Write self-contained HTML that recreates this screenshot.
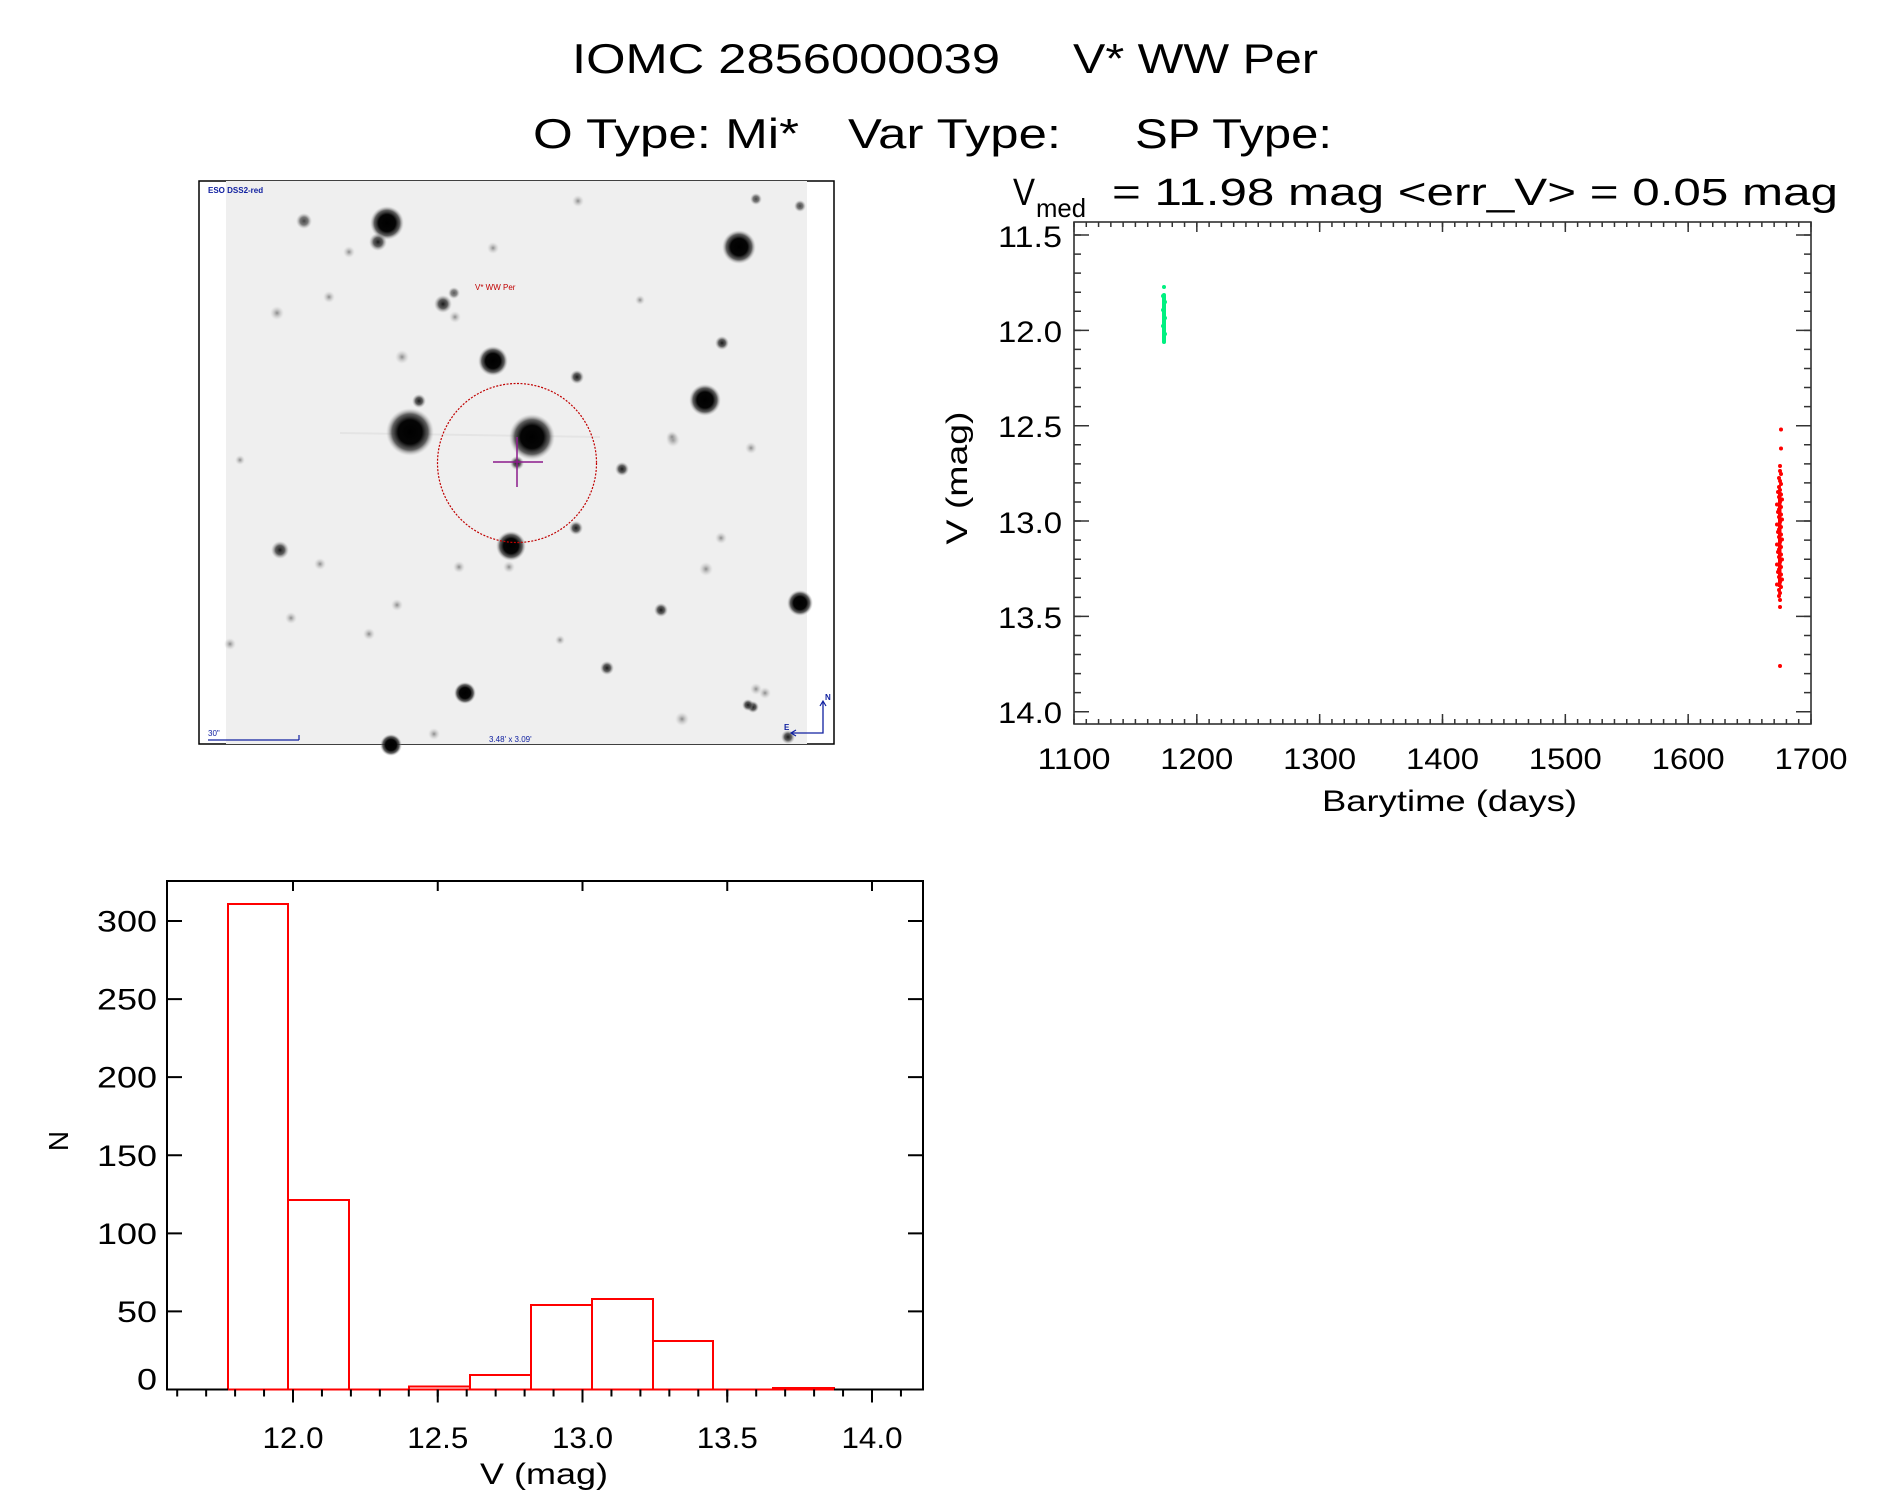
<!DOCTYPE html>
<html>
<head>
<meta charset="utf-8">
<style>
html,body{margin:0;padding:0;background:#fff;}
svg{display:block;}
text{font-family:"Liberation Sans",sans-serif;fill:#000;}
</style>
</head>
<body>
<svg width="1889" height="1494" viewBox="0 0 1889 1494" xmlns="http://www.w3.org/2000/svg">
<defs>
<radialGradient id="st"><stop offset="0" stop-color="#000"/><stop offset="0.5" stop-color="#050505"/><stop offset="0.75" stop-color="#3a3a3a" stop-opacity="0.8"/><stop offset="1" stop-color="#bbb" stop-opacity="0"/></radialGradient>
<radialGradient id="sm"><stop offset="0" stop-color="#1a1a1a"/><stop offset="0.5" stop-color="#444" stop-opacity="0.85"/><stop offset="1" stop-color="#aaa" stop-opacity="0"/></radialGradient>
<radialGradient id="fa"><stop offset="0" stop-color="#8a8a8a"/><stop offset="1" stop-color="#ccc" stop-opacity="0"/></radialGradient>
</defs>

<!-- Titles -->
<text x="572" y="73" font-size="42" textLength="428" lengthAdjust="spacingAndGlyphs">IOMC 2856000039</text>
<text x="1073" y="73" font-size="42" textLength="245" lengthAdjust="spacingAndGlyphs">V* WW Per</text>
<text x="533" y="148" font-size="42" textLength="266" lengthAdjust="spacingAndGlyphs">O Type: Mi*</text>
<text x="848" y="148" font-size="42" textLength="213" lengthAdjust="spacingAndGlyphs">Var Type:</text>
<text x="1135" y="148" font-size="42" textLength="197" lengthAdjust="spacingAndGlyphs">SP Type:</text>

<!-- Image panel -->
<rect x="199" y="181" width="635" height="563" fill="#fff" stroke="#000" stroke-width="1.5"/>
<rect x="226" y="181" width="581" height="563" fill="#efefef"/>
<line x1="340" y1="433" x2="600" y2="437" stroke="#aaa" stroke-width="2" opacity="0.15"/>
<g>
<circle cx="410" cy="432" r="24" fill="url(#st)"/>
<circle cx="532" cy="437" r="23" fill="url(#st)"/>
<circle cx="387" cy="223" r="17" fill="url(#st)"/>
<circle cx="739" cy="247" r="17" fill="url(#st)"/>
<circle cx="705" cy="400" r="16" fill="url(#st)"/>
<circle cx="493" cy="361" r="15" fill="url(#st)"/>
<circle cx="511" cy="546" r="15" fill="url(#st)"/>
<circle cx="800" cy="603" r="13" fill="url(#st)"/>
<circle cx="465" cy="693" r="11" fill="url(#st)"/>
<circle cx="391" cy="745" r="11" fill="url(#st)"/>
<circle cx="378" cy="242" r="9" fill="url(#sm)"/>
<circle cx="443" cy="304" r="9" fill="url(#sm)"/>
<circle cx="280" cy="550" r="9" fill="url(#sm)"/>
<circle cx="304" cy="221" r="8" fill="url(#sm)" opacity="0.8"/>
<circle cx="722" cy="343" r="7" fill="url(#sm)"/>
<circle cx="756" cy="199" r="6" fill="url(#sm)" opacity="0.8"/>
<circle cx="800" cy="206" r="6" fill="url(#sm)" opacity="0.8"/>
<circle cx="419" cy="401" r="7" fill="url(#sm)"/>
<circle cx="577" cy="377" r="7" fill="url(#sm)"/>
<circle cx="622" cy="469" r="7" fill="url(#sm)"/>
<circle cx="576" cy="528" r="7" fill="url(#sm)"/>
<circle cx="517" cy="463" r="7" fill="url(#sm)"/>
<circle cx="661" cy="610" r="7" fill="url(#sm)"/>
<circle cx="607" cy="668" r="7" fill="url(#sm)"/>
<circle cx="753" cy="707" r="6" fill="url(#sm)"/>
<circle cx="788" cy="737" r="7" fill="url(#sm)"/>
<circle cx="748" cy="705" r="6" fill="url(#sm)"/>
<circle cx="454" cy="293" r="6" fill="url(#sm)" opacity="0.7"/>
<circle cx="277" cy="313" r="7" fill="url(#fa)"/>
<circle cx="329" cy="297" r="6" fill="url(#fa)"/>
<circle cx="349" cy="252" r="6" fill="url(#fa)"/>
<circle cx="402" cy="357" r="7" fill="url(#fa)"/>
<circle cx="455" cy="317" r="6" fill="url(#fa)"/>
<circle cx="578" cy="201" r="6" fill="url(#fa)"/>
<circle cx="493" cy="248" r="6" fill="url(#fa)"/>
<circle cx="673" cy="440" r="7" fill="url(#fa)"/>
<circle cx="751" cy="448" r="6" fill="url(#fa)"/>
<circle cx="459" cy="567" r="6" fill="url(#fa)"/>
<circle cx="320" cy="564" r="6" fill="url(#fa)"/>
<circle cx="706" cy="569" r="7" fill="url(#fa)"/>
<circle cx="721" cy="538" r="6" fill="url(#fa)"/>
<circle cx="765" cy="693" r="6" fill="url(#fa)"/>
<circle cx="756" cy="689" r="6" fill="url(#fa)"/>
<circle cx="682" cy="719" r="7" fill="url(#fa)"/>
<circle cx="291" cy="618" r="6" fill="url(#fa)"/>
<circle cx="369" cy="634" r="6" fill="url(#fa)"/>
<circle cx="397" cy="605" r="6" fill="url(#fa)"/>
<circle cx="434" cy="734" r="6" fill="url(#fa)"/>
<circle cx="230" cy="644" r="6" fill="url(#fa)"/>
<circle cx="509" cy="567" r="6" fill="url(#fa)"/>
<circle cx="672" cy="437" r="6" fill="url(#fa)"/>
<circle cx="240" cy="460" r="5" fill="url(#fa)"/>
<circle cx="640" cy="300" r="5" fill="url(#fa)"/>
<circle cx="560" cy="640" r="5" fill="url(#fa)"/>
</g>
<circle cx="517" cy="463" r="79.5" fill="none" stroke="#c00000" stroke-width="1.2" stroke-dasharray="2 1.5"/>
<line x1="493" y1="462" x2="543" y2="462" stroke="#8b1a8b" stroke-width="1.5"/>
<line x1="517" y1="437" x2="517" y2="487" stroke="#8b1a8b" stroke-width="1.5"/>
<text x="475" y="290" font-size="8" style="fill:#c00000">V* WW Per</text>
<text x="208" y="193" font-size="8" font-weight="bold" style="fill:#1020a0">ESO DSS2-red</text>
<text x="208" y="736" font-size="8" style="fill:#1020a0">30"</text>
<line x1="208" y1="740" x2="299" y2="740" stroke="#1020a0" stroke-width="1.2"/>
<line x1="299" y1="735" x2="299" y2="740" stroke="#1020a0" stroke-width="1.2"/>
<text x="489" y="742" font-size="8" style="fill:#1020a0">3.48' x 3.09'</text>
<polyline points="792,733 823,733 823,702" fill="none" stroke="#1020a0" stroke-width="1.3"/>
<polyline points="820,706 823,701 826,706" fill="none" stroke="#1020a0" stroke-width="1.2"/>
<polyline points="796,730 791,733 796,736" fill="none" stroke="#1020a0" stroke-width="1.2"/>
<text x="825" y="700" font-size="8" font-weight="bold" style="fill:#1020a0">N</text>
<text x="784" y="730" font-size="8" font-weight="bold" style="fill:#1020a0">E</text>

<!-- Light curve panel -->
<text x="1013" y="205" font-size="38" textLength="22" lengthAdjust="spacingAndGlyphs">V</text>
<text x="1036" y="217" font-size="26" textLength="50" lengthAdjust="spacingAndGlyphs">med</text>
<text x="1112" y="205" font-size="38" textLength="726" lengthAdjust="spacingAndGlyphs">=  11.98  mag  &lt;err_V&gt;  =  0.05  mag</text>

<rect x="1074" y="222" width="737" height="502" fill="none" stroke="#222" stroke-width="1.5"/>
<g stroke="#333" stroke-width="1.5" fill="none">
<line x1="1073.25" y1="721.5" x2="1812" y2="721.5" stroke-width="5" stroke-dasharray="1.5 10.7833"/>
<line x1="1073.25" y1="719" x2="1812" y2="719" stroke-width="10" stroke-dasharray="1.5 121.333"/>
<line x1="1073.25" y1="224.5" x2="1812" y2="224.5" stroke-width="5" stroke-dasharray="1.5 10.7833"/>
<line x1="1073.25" y1="227" x2="1812" y2="227" stroke-width="10" stroke-dasharray="1.5 121.333"/>
<line x1="1077.5" y1="234.25" x2="1077.5" y2="713" stroke-width="7" stroke-dasharray="1.5 17.57"/>
<line x1="1081.5" y1="234.25" x2="1081.5" y2="713" stroke-width="15" stroke-dasharray="1.5 93.85"/>
<line x1="1807.5" y1="234.25" x2="1807.5" y2="713" stroke-width="7" stroke-dasharray="1.5 17.57"/>
<line x1="1803.5" y1="234.25" x2="1803.5" y2="713" stroke-width="15" stroke-dasharray="1.5 93.85"/>
</g>
<g font-size="30" text-anchor="end">
<text x="1062" y="247" textLength="64" lengthAdjust="spacingAndGlyphs">11.5</text>
<text x="1062" y="342" textLength="64" lengthAdjust="spacingAndGlyphs">12.0</text>
<text x="1062" y="437" textLength="64" lengthAdjust="spacingAndGlyphs">12.5</text>
<text x="1062" y="533" textLength="64" lengthAdjust="spacingAndGlyphs">13.0</text>
<text x="1062" y="628" textLength="64" lengthAdjust="spacingAndGlyphs">13.5</text>
<text x="1062" y="723" textLength="64" lengthAdjust="spacingAndGlyphs">14.0</text>
</g>
<g font-size="30">
<text x="1037.5" y="769" textLength="73" lengthAdjust="spacingAndGlyphs">1100</text>
<text x="1160.3" y="769" textLength="73" lengthAdjust="spacingAndGlyphs">1200</text>
<text x="1283.2" y="769" textLength="73" lengthAdjust="spacingAndGlyphs">1300</text>
<text x="1406" y="769" textLength="73" lengthAdjust="spacingAndGlyphs">1400</text>
<text x="1528.8" y="769" textLength="73" lengthAdjust="spacingAndGlyphs">1500</text>
<text x="1651.7" y="769" textLength="73" lengthAdjust="spacingAndGlyphs">1600</text>
<text x="1774.5" y="769" textLength="73" lengthAdjust="spacingAndGlyphs">1700</text>
</g>
<text x="1322" y="811" font-size="30" textLength="255" lengthAdjust="spacingAndGlyphs">Barytime (days)</text>
<text transform="translate(967,478) rotate(-90)" x="0" y="0" font-size="30" text-anchor="middle" textLength="133" lengthAdjust="spacingAndGlyphs">V (mag)</text>

<!-- green points -->
<g fill="#00f080">
<rect x="1162" y="293" width="4" height="51" rx="2"/>
<circle cx="1164" cy="287" r="2"/>
<circle cx="1163" cy="296" r="2"/><circle cx="1165" cy="302" r="2"/><circle cx="1163" cy="310" r="2"/>
<circle cx="1165" cy="318" r="2"/><circle cx="1163" cy="326" r="2"/><circle cx="1165" cy="334" r="2"/>
<circle cx="1164" cy="341" r="2"/>
</g>
<!-- red points -->
<g fill="#ff0000">
<rect x="1778" y="492" width="3.5" height="95"/>
<circle cx="1781" cy="429.5" r="2"/><circle cx="1781" cy="448.5" r="2"/><circle cx="1780" cy="466" r="2"/>
<circle cx="1780" cy="471" r="2"/><circle cx="1781" cy="474" r="2"/><circle cx="1779" cy="478" r="2"/>
<circle cx="1780" cy="481" r="2"/><circle cx="1781" cy="484" r="2"/><circle cx="1779" cy="487" r="2"/><circle cx="1780" cy="490" r="2"/>
<circle cx="1778" cy="492" r="2"/><circle cx="1781" cy="494.5" r="2"/><circle cx="1779" cy="497" r="2"/><circle cx="1782" cy="499.5" r="2"/>
<circle cx="1780" cy="502" r="2"/><circle cx="1777" cy="504.5" r="2"/><circle cx="1781" cy="507" r="2"/><circle cx="1779" cy="509.5" r="2"/>
<circle cx="1778" cy="512" r="2"/><circle cx="1781" cy="514.5" r="2"/><circle cx="1779" cy="517" r="2"/><circle cx="1782" cy="519.5" r="2"/>
<circle cx="1780" cy="522" r="2"/><circle cx="1777" cy="524.5" r="2"/><circle cx="1781" cy="527" r="2"/><circle cx="1779" cy="529.5" r="2"/>
<circle cx="1778" cy="532" r="2"/><circle cx="1781" cy="534.5" r="2"/><circle cx="1779" cy="537" r="2"/><circle cx="1782" cy="539.5" r="2"/>
<circle cx="1780" cy="542" r="2"/><circle cx="1777" cy="544.5" r="2"/><circle cx="1781" cy="547" r="2"/><circle cx="1779" cy="549.5" r="2"/>
<circle cx="1778" cy="552" r="2"/><circle cx="1781" cy="554.5" r="2"/><circle cx="1779" cy="557" r="2"/><circle cx="1782" cy="559.5" r="2"/>
<circle cx="1780" cy="562" r="2"/><circle cx="1777" cy="564.5" r="2"/><circle cx="1781" cy="567" r="2"/><circle cx="1779" cy="569.5" r="2"/>
<circle cx="1778" cy="572" r="2"/><circle cx="1781" cy="574.5" r="2"/><circle cx="1779" cy="577" r="2"/><circle cx="1782" cy="579.5" r="2"/>
<circle cx="1780" cy="582" r="2"/><circle cx="1777" cy="584.5" r="2"/><circle cx="1781" cy="587" r="2"/>
<circle cx="1779" cy="590" r="2"/><circle cx="1780" cy="593" r="2"/><circle cx="1779" cy="596" r="2"/><circle cx="1780" cy="600" r="2"/>
<circle cx="1780" cy="607" r="2"/><circle cx="1780" cy="666" r="2"/>
</g>

<!-- Histogram panel -->
<path d="M228,1389.5 V904 H288 V1389.5 M288,1389.5 V1200 H349 V1389.5 H409 V1386.5 H470 V1389.5 M470,1389.5 V1375 H531 V1389.5 M531,1389.5 V1305 H592 V1389.5 M592,1389.5 V1299 H653 V1389.5 M653,1389.5 V1341 H713 V1389.5 H773 V1388 H834 V1389.5 M228,1389.5 H834" fill="none" stroke="#ff0000" stroke-width="2"/>
<rect x="167" y="881" width="756" height="508.5" fill="none" stroke="#000" stroke-width="2"/>
<path d="M228,1389.5 H834" stroke="#ff0000" stroke-width="2"/>
<g stroke="#000" stroke-width="2" fill="none">
<line x1="176.2" y1="1393" x2="902" y2="1393" stroke-width="7" stroke-dasharray="2 26.95"/>
<line x1="292" y1="1396" x2="874" y2="1396" stroke-width="13" stroke-dasharray="2 142.75"/>
<line x1="292" y1="886" x2="874" y2="886" stroke-width="10" stroke-dasharray="2 142.75"/>
<line x1="174.5" y1="920" x2="174.5" y2="1390" stroke-width="15" stroke-dasharray="2 76.08"/>
<line x1="915.5" y1="920" x2="915.5" y2="1390" stroke-width="15" stroke-dasharray="2 76.08"/>
</g>
<g font-size="30" text-anchor="end">
<text x="157" y="931.5" textLength="60" lengthAdjust="spacingAndGlyphs">300</text>
<text x="157" y="1009.6" textLength="60" lengthAdjust="spacingAndGlyphs">250</text>
<text x="157" y="1087.7" textLength="60" lengthAdjust="spacingAndGlyphs">200</text>
<text x="157" y="1165.8" textLength="60" lengthAdjust="spacingAndGlyphs">150</text>
<text x="157" y="1243.8" textLength="60" lengthAdjust="spacingAndGlyphs">100</text>
<text x="157" y="1322" textLength="40" lengthAdjust="spacingAndGlyphs">50</text>
<text x="157" y="1389.5" textLength="20" lengthAdjust="spacingAndGlyphs">0</text>
</g>
<g font-size="30">
<text x="262.5" y="1448" textLength="61" lengthAdjust="spacingAndGlyphs">12.0</text>
<text x="407.25" y="1448" textLength="61" lengthAdjust="spacingAndGlyphs">12.5</text>
<text x="552" y="1448" textLength="61" lengthAdjust="spacingAndGlyphs">13.0</text>
<text x="696.75" y="1448" textLength="61" lengthAdjust="spacingAndGlyphs">13.5</text>
<text x="841.5" y="1448" textLength="61" lengthAdjust="spacingAndGlyphs">14.0</text>
</g>
<text x="480" y="1484" font-size="30" textLength="128" lengthAdjust="spacingAndGlyphs">V (mag)</text>
<text transform="translate(68,1141) rotate(-90)" x="0" y="0" font-size="28" text-anchor="middle">N</text>
</svg>
</body>
</html>
